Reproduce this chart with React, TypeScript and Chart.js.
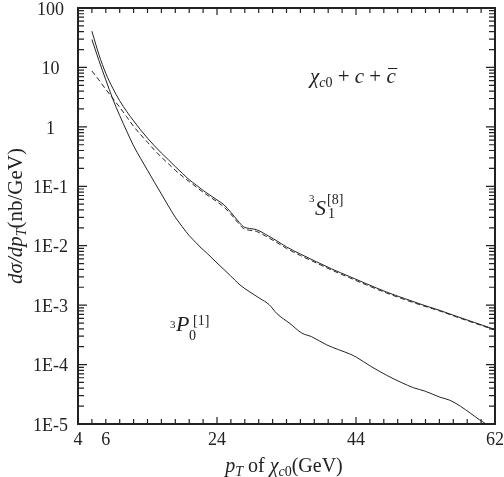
import React, { useEffect, useRef } from "react";
import { Chart, registerables } from "chart.js";

Chart.register(...registerables);

// ---- axis ticks / labels ----
const xTickValues = [4, 8, 24, 44, 64];
const xTickLabels = ["4", "6", "24", "44", "62"];
const xMajorTicks = [4, 24, 44, 64];
const xMinorStep = 2;
const yTickValues = [1e-5, 1e-4, 1e-3, 1e-2, 1e-1, 1, 10, 100];
const yTickLabels = ["1E-5", "1E-4", "1E-3", "1E-2", "1E-1", "1", "10", "100"];

// ---- series: total (upper solid) ----
const totalX = [6, 7, 8, 9, 10, 11, 12, 13, 14, 15, 16, 17, 18, 19, 20, 21, 22, 23, 24, 25, 26, 27, 27.8, 28.7, 29.7, 31, 32.5, 34, 36, 38.3, 40.5, 43.1, 45.5, 48.4, 51, 53.5, 56.1, 58.5, 61, 64];
const totalY = [40.7, 16.6, 7.94, 4.47, 2.75, 1.82, 1.26, 0.891, 0.646, 0.479, 0.363, 0.28, 0.214, 0.166, 0.129, 0.105, 0.0851, 0.0708, 0.0589, 0.049, 0.0363, 0.0263, 0.0209, 0.0195, 0.0186, 0.0155, 0.0123, 0.00955, 0.00724, 0.00537, 0.00407, 0.00302, 0.00229, 0.00166, 0.00129, 0.00102, 0.000813, 0.000646, 0.000513, 0.000389];

// ---- series: 3S1[8] (dashed) ----
const s8X = [6, 7, 8, 9, 10, 11, 12, 13, 14, 15, 16, 17, 18, 19, 20, 21, 22, 23, 24, 25, 26, 27, 27.8, 28.7, 29.7, 31, 32.5, 34, 36, 38.3, 40.5, 43.1, 45.5, 48.4, 51, 53.5, 56.1, 58.5, 61, 64];
const s8Y = [8.71, 6.17, 4.27, 3.02, 2.14, 1.48, 1.02, 0.741, 0.55, 0.407, 0.309, 0.24, 0.186, 0.148, 0.12, 0.0977, 0.0794, 0.0661, 0.055, 0.0447, 0.0339, 0.0245, 0.0195, 0.0182, 0.0174, 0.0145, 0.0115, 0.00902, 0.00684, 0.00513, 0.00389, 0.00288, 0.00219, 0.0016, 0.00124, 0.000989, 0.000794, 0.000631, 0.000501, 0.00038];

// ---- series: 3P0[1] (lower solid) ----
const p0X = [6, 7, 8, 9, 10, 11, 12, 13, 14, 15, 16, 17, 18, 19, 20, 21, 21.55, 22.5, 24, 25.9, 27.3, 28.75, 30.2, 31.5, 32.6, 34.5, 36.2, 37.6, 39.8, 41.5, 43.1, 44.1, 46, 48.4, 50.5, 52.3, 54, 56.1, 57.5, 59, 60.5, 61.8, 63];
const p0Y = [29.5, 13.2, 6.17, 2.95, 1.55, 0.851, 0.479, 0.295, 0.186, 0.117, 0.0741, 0.0468, 0.0302, 0.0209, 0.0148, 0.0112, 0.00955, 0.00759, 0.00513, 0.00316, 0.00219, 0.00166, 0.00129, 0.00102, 0.000724, 0.00049, 0.000339, 0.000295, 0.000214, 0.000178, 0.000151, 0.000132, 0.0000955, 0.0000661, 0.0000501, 0.0000407, 0.0000355, 0.0000282, 0.0000251, 0.00002, 0.0000151, 0.0000117, 0.00000955];

const SERIF = "'Liberation Serif', 'Times New Roman', serif";
const INK = "#222";

type Run = { t: string; f: string; dy?: number; dx?: number };

function runsWidth(ctx: CanvasRenderingContext2D, runs: Run[]) {
  let w = 0;
  for (const r of runs) {
    ctx.font = r.f;
    w += ctx.measureText(r.t).width + (r.dx || 0);
  }
  return w;
}

function drawRuns(ctx: CanvasRenderingContext2D, runs: Run[], x: number, y: number) {
  let cx = x;
  for (const r of runs) {
    ctx.font = r.f;
    cx += r.dx || 0;
    ctx.fillText(r.t, cx, y + (r.dy || 0));
    cx += ctx.measureText(r.t).width;
  }
  return cx;
}

const decorPlugin = {
  id: "decor",
  afterDraw(chart: any) {
    const ctx: CanvasRenderingContext2D = chart.ctx;
    const { left, right, top, bottom } = chart.chartArea;
    const xs = chart.scales.x;
    const ys = chart.scales.y;
    ctx.save();
    ctx.strokeStyle = INK;
    ctx.lineWidth = 1.2;
    ctx.beginPath();
    for (let v = xs.min; v <= xs.max + 1e-9; v += xMinorStep) {
      const px = xs.getPixelForValue(v);
      const len = xMajorTicks.includes(v) ? 7 : 5;
      ctx.moveTo(px, bottom);
      ctx.lineTo(px, bottom - len);
      ctx.moveTo(px, top);
      ctx.lineTo(px, top + len);
    }
    for (let e = -5; e <= 2; e++) {
      for (let m = 1; m <= 9; m++) {
        const v = m * Math.pow(10, e);
        if (v > ys.max * 1.0001) break;
        const py = ys.getPixelForValue(v);
        const len = m === 1 ? 9 : 6;
        ctx.moveTo(left, py);
        ctx.lineTo(left + len, py);
        ctx.moveTo(right, py);
        ctx.lineTo(right - len, py);
      }
    }
    ctx.stroke();
    ctx.lineWidth = 2;
    ctx.strokeRect(left, top, right - left, bottom - top);

    ctx.fillStyle = INK;
    ctx.textBaseline = "alphabetic";
    ctx.textAlign = "left";

    const it = (s: number) => `italic ${s}px ${SERIF}`;
    const rm = (s: number) => `${s}px ${SERIF}`;

    // y axis title (rotated)
    const yRuns: Run[] = [
      { t: "dσ/dp", f: it(21) },
      { t: "T", f: it(14), dy: 4 },
      { t: "(nb/GeV)", f: rm(21) },
    ];
    const yw = runsWidth(ctx, yRuns);
    ctx.save();
    ctx.translate(22, 216);
    ctx.rotate(-Math.PI / 2);
    drawRuns(ctx, yRuns, -yw / 2, 0);
    ctx.restore();

    // x axis title
    const xRuns: Run[] = [
      { t: "p", f: it(20) },
      { t: "T", f: it(14), dy: 4 },
      { t: " of ", f: rm(20) },
      { t: "χ", f: it(20) },
      { t: "c", f: it(14), dy: 4 },
      { t: "0", f: rm(14), dy: 4 },
      { t: "(GeV)", f: rm(20) },
    ];
    const xw = runsWidth(ctx, xRuns);
    drawRuns(ctx, xRuns, 284 - xw / 2, 472);

    // process label
    const cx = drawRuns(ctx, [
      { t: "χ", f: it(21) },
      { t: "c", f: it(14), dy: 4 },
      { t: "0", f: rm(14), dy: 4 },
      { t: " + ", f: rm(21) },
      { t: "c", f: it(21) },
      { t: " + ", f: rm(21) },
    ], 310, 83);
    ctx.font = it(21);
    ctx.fillText("c", cx, 83);
    const cw = ctx.measureText("c").width;
    ctx.lineWidth = 1;
    ctx.beginPath();
    ctx.moveTo(cx + 1.5, 68.5);
    ctx.lineTo(cx + cw + 1.5, 68.5);
    ctx.stroke();

    // 3S1[8]
    ctx.font = rm(11);
    ctx.fillText("3", 309, 202);
    ctx.font = it(22);
    ctx.fillText("S", 315, 215);
    ctx.font = rm(14);
    ctx.fillText("[8]", 327, 204);
    ctx.fillText("1", 328, 218);

    // 3P0[1]
    ctx.font = rm(11);
    ctx.fillText("3", 170, 328);
    ctx.font = it(22);
    ctx.fillText("P", 176, 331);
    ctx.font = rm(14);
    ctx.fillText("[1]", 193, 325);
    ctx.fillText("0", 189, 340);

    ctx.restore();
  },
};

export default function App() {
  const ref = useRef<HTMLCanvasElement | null>(null);
  useEffect(() => {
    document.body.style.margin = "0";
    document.body.style.overflow = "hidden";
    const canvas = ref.current;
    if (!canvas) return;
    const line = (xsArr: number[], ysArr: number[], dash: number[]) => ({
      data: xsArr.map((x, i) => ({ x, y: ysArr[i] })),
      borderColor: INK,
      borderWidth: 1,
      borderDash: dash,
      pointRadius: 0,
      fill: false,
      cubicInterpolationMode: "monotone" as const,
    });
    const chart = new Chart(canvas, {
      type: "line",
      data: {
        datasets: [
          line(totalX, totalY, []),
          line(s8X, s8Y, [5, 3]),
          line(p0X, p0Y, []),
        ],
      },
      options: {
        animation: false,
        responsive: false,
        events: [],
        layout: { padding: { left: 0, right: 9, top: 8, bottom: 0 } },
        plugins: { legend: { display: false }, tooltip: { enabled: false } },
        scales: {
          x: {
            type: "linear",
            min: 4,
            max: 64,
            grid: { display: false, drawTicks: false },
            border: { display: false },
            afterBuildTicks: (s: any) => {
              s.ticks = xTickValues.map((v) => ({ value: v }));
            },
            afterFit: (s: any) => {
              s.height = 53;
              s.paddingLeft = 0;
              s.paddingRight = 0;
            },
            ticks: {
              autoSkip: false,
              maxRotation: 0,
              padding: 5,
              color: INK,
              font: { family: SERIF, size: 18 },
              callback: (v: any) => {
                const i = xTickValues.indexOf(Number(v));
                return i >= 0 ? xTickLabels[i] : "";
              },
            },
          },
          y: {
            type: "logarithmic",
            min: 1e-5,
            max: 100,
            grid: { display: false, drawTicks: false },
            border: { display: false },
            afterBuildTicks: (s: any) => {
              s.ticks = yTickValues.map((v) => ({ value: v, major: true }));
            },
            afterFit: (s: any) => {
              s.width = 78;
              s.paddingTop = 0;
              s.paddingBottom = 0;
            },
            ticks: {
              autoSkip: false,
              crossAlign: "center",
              padding: 10,
              labelOffset: 2,
              color: INK,
              font: { family: SERIF, size: 18 },
              callback: (v: any) => {
                const i = yTickValues.findIndex((t) => Math.abs(t - Number(v)) / t < 1e-6);
                return i >= 0 ? yTickLabels[i] : "";
              },
            },
          },
        },
      },
      plugins: [decorPlugin],
    });
    return () => chart.destroy();
  }, []);
  return (
    <div style={{ width: 504, height: 477, position: "relative", background: "#fff" }}>
      <canvas ref={ref} width={504} height={477} style={{ display: "block" }} />
    </div>
  );
}
